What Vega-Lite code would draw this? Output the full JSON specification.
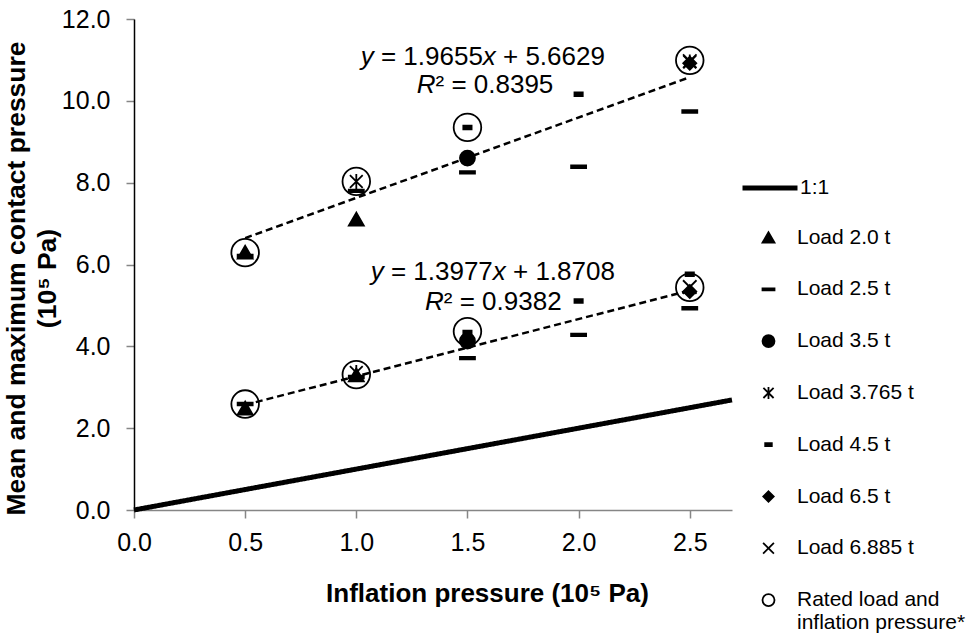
{
  "$schema": "https://vega.github.io/schema/vega-lite/v6.json",
  "width": 598,
  "height": 491,
  "autosize": {"type": "none"},
  "padding": {"left": 134, "top": 19, "right": 239, "bottom": 129},
  "background": "white",
  "config": {
    "view": {"stroke": null},
    "font": "Liberation Sans",
    "axis": {"grid": false, "labelFont": "Liberation Sans", "titleFont": "Liberation Sans", "labelColor": "black", "titleColor": "black"},
    "legend": {"labelFont": "Liberation Sans", "labelColor": "black"}
  },
  "datasets": {
    "oneToOne": [
      {"p": 0, "v": 0, "lab": "1:1"},
      {"p": 2.69, "v": 2.69, "lab": "1:1"}
    ],
    "trend": [
      {"g": "max", "p": 0.5, "v": 6.6457},
      {"g": "max", "p": 2.5, "v": 10.5767},
      {"g": "mean", "p": 0.5, "v": 2.5697},
      {"g": "mean", "p": 2.5, "v": 5.3651}
    ],
    "pts": [
      {"s": "Load 2.0 t", "p": 0.5, "v": 6.3},
      {"s": "Load 2.0 t", "p": 1.0, "v": 7.11},
      {"s": "Load 2.0 t", "p": 0.5, "v": 2.49},
      {"s": "Load 2.0 t", "p": 1.0, "v": 3.3},
      {"s": "Load 2.5 t", "p": 0.5, "v": 6.21},
      {"s": "Load 2.5 t", "p": 1.0, "v": 7.8},
      {"s": "Load 2.5 t", "p": 1.5, "v": 8.25},
      {"s": "Load 2.5 t", "p": 2.0, "v": 8.39},
      {"s": "Load 2.5 t", "p": 2.5, "v": 9.74},
      {"s": "Load 2.5 t", "p": 0.5, "v": 2.59},
      {"s": "Load 2.5 t", "p": 1.0, "v": 3.25},
      {"s": "Load 2.5 t", "p": 1.5, "v": 3.71},
      {"s": "Load 2.5 t", "p": 2.0, "v": 4.28},
      {"s": "Load 2.5 t", "p": 2.5, "v": 4.93},
      {"s": "Load 3.5 t", "p": 1.5, "v": 8.6},
      {"s": "Load 3.5 t", "p": 1.5, "v": 4.13},
      {"s": "Load 3.765 t", "p": 1.0, "v": 8.03},
      {"s": "Load 3.765 t", "p": 2.5, "v": 10.95},
      {"s": "Load 3.765 t", "p": 1.0, "v": 3.36},
      {"s": "Load 4.5 t", "p": 1.5, "v": 9.35},
      {"s": "Load 4.5 t", "p": 2.0, "v": 10.16},
      {"s": "Load 4.5 t", "p": 1.5, "v": 4.34},
      {"s": "Load 4.5 t", "p": 2.0, "v": 5.11},
      {"s": "Load 4.5 t", "p": 2.5, "v": 5.76},
      {"s": "Load 6.5 t", "p": 2.5, "v": 10.92},
      {"s": "Load 6.5 t", "p": 2.5, "v": 5.34},
      {"s": "Load 6.885 t", "p": 2.5, "v": 10.97},
      {"s": "Load 6.885 t", "p": 2.5, "v": 5.45}
    ],
    "rated": [
      {"s": "Rated load and inflation pressure*", "p": 0.5, "v": 6.29},
      {"s": "Rated load and inflation pressure*", "p": 1.0, "v": 8.03},
      {"s": "Rated load and inflation pressure*", "p": 1.5, "v": 9.35},
      {"s": "Rated load and inflation pressure*", "p": 2.5, "v": 10.99},
      {"s": "Rated load and inflation pressure*", "p": 0.5, "v": 2.59},
      {"s": "Rated load and inflation pressure*", "p": 1.0, "v": 3.31},
      {"s": "Rated load and inflation pressure*", "p": 1.5, "v": 4.36},
      {"s": "Rated load and inflation pressure*", "p": 2.5, "v": 5.44}
    ],
    "ann": [
      {"ax": 1.0198, "ay": 11.079, "t": "y", "it": true},
      {"ax": 1.1107, "ay": 11.079, "t": "= 1.9655", "it": false},
      {"ax": 1.5691, "ay": 11.079, "t": "x", "it": true},
      {"ax": 1.6599, "ay": 11.079, "t": "+ 5.6629", "it": false},
      {"ax": 1.2717, "ay": 10.387, "t": "R", "it": true},
      {"ax": 1.3563, "ay": 10.387, "t": "² = 0.8395", "it": false},
      {"ax": 1.0648, "ay": 5.824, "t": "y", "it": true},
      {"ax": 1.1556, "ay": 5.824, "t": "= 1.3977", "it": false},
      {"ax": 1.614, "ay": 5.824, "t": "x", "it": true},
      {"ax": 1.7049, "ay": 5.824, "t": "+ 1.8708", "it": false},
      {"ax": 1.309, "ay": 5.091, "t": "R", "it": true},
      {"ax": 1.3936, "ay": 5.091, "t": "² = 0.9382", "it": false}
    ]
  },
  "layer": [
    {
      "data": {"name": "oneToOne"},
      "mark": {"type": "line", "strokeWidth": 5, "strokeCap": "butt", "color": "black"},
      "encoding": {
        "x": {
          "field": "p", "type": "quantitative",
          "scale": {"domain": [0, 2.69], "nice": false, "zero": false},
          "axis": {
            "values": [0, 0.5, 1, 1.5, 2, 2.5], "format": ".1f",
            "labelFontSize": 25, "labelPadding": 12, "labelFlush": false,
            "domainColor": "#868686", "domainWidth": 1.5, "tickColor": "#868686", "tickSize": 8, "tickWidth": 1.5,
            "title": "Inflation pressure (10⁵ Pa)", "titleFontSize": 26, "titleFontWeight": "bold",
            "titleX": 353, "titleY": 83, "titleBaseline": "middle", "titleAnchor": "middle"
          }
        },
        "y": {
          "field": "v", "type": "quantitative",
          "scale": {"domain": [0, 12], "nice": false, "zero": false},
          "axis": {
            "values": [0, 2, 4, 6, 8, 10, 12], "format": ".1f",
            "labelFontSize": 25, "labelPadding": 16, "labelFlush": false,
            "domainColor": "black", "domainWidth": 1.5, "tickColor": "#868686", "tickSize": 8, "tickWidth": 1.5,
            "title": ["Mean and maximum contact pressure", "(10⁵ Pa)"], "titleFontSize": 26.5, "titleFontWeight": "bold",
            "titleLineHeight": 31, "titleX": -118, "titleY": 259, "titleBaseline": "middle", "titleAngle": -90, "titleAnchor": "middle", "titleAlign": "center"
          }
        },
        "strokeDash": {
          "field": "lab", "type": "nominal",
          "scale": {"domain": ["1:1"], "range": [[1, 0]]},
          "legend": {
            "title": null, "orient": "none", "legendX": 606, "legendY": 139,
            "symbolType": "stroke", "symbolSize": 3025, "symbolStrokeWidth": 5, "symbolStrokeColor": "black",
            "labelFontSize": 21, "labelOffset": 0
          }
        }
      }
    },
    {
      "data": {"name": "trend"},
      "mark": {"type": "line", "strokeWidth": 2.5, "strokeDash": [7, 4], "color": "black"},
      "encoding": {
        "x": {"field": "p", "type": "quantitative"},
        "y": {"field": "v", "type": "quantitative"},
        "detail": {"field": "g", "type": "nominal"}
      }
    },
    {
      "data": {"name": "pts"},
      "mark": {"type": "point", "strokeWidth": 1.8, "opacity": 1, "size": 225},
      "encoding": {
        "x": {"field": "p", "type": "quantitative"},
        "y": {"field": "v", "type": "quantitative"},
        "shape": {
          "field": "s", "type": "nominal",
          "scale": {
            "domain": ["Load 2.0 t", "Load 2.5 t", "Load 3.5 t", "Load 3.765 t", "Load 4.5 t", "Load 6.5 t", "Load 6.885 t", "Rated load and inflation pressure*"],
            "range": ["triangle-up", "M-1,-0.17L1,-0.17L1,0.17L-1,0.17Z", "circle", "M-0.85,-0.85L0.85,0.85M0.85,-0.85L-0.85,0.85M0,-1L0,1", "M-0.55,-0.25L0.55,-0.25L0.55,0.25L-0.55,0.25Z", "M0,-0.87L0.87,0L0,0.87L-0.87,0Z", "M-0.9,-0.9L0.9,0.9M0.9,-0.9L-0.9,0.9", "circle"]
          },
          "legend": {
            "title": null, "orient": "none", "legendX": 624, "legendY": 208,
            "symbolSize": 144, "symbolStrokeWidth": 1.8,
            "labelFontSize": 21, "labelOffset": 18, "rowPadding": 29.8, "labelLimit": 300,
            "labelExpr": "datum.label == 'Rated load and inflation pressure*' ? ['Rated load and', 'inflation pressure*'] : datum.label"
          }
        },
        "fill": {
          "field": "s", "type": "nominal",
          "scale": {
            "domain": ["Load 2.0 t", "Load 2.5 t", "Load 3.5 t", "Load 3.765 t", "Load 4.5 t", "Load 6.5 t", "Load 6.885 t", "Rated load and inflation pressure*"],
            "range": ["black", "black", "black", "transparent", "black", "black", "transparent", "transparent"]
          },
          "legend": {
            "title": null, "orient": "none", "legendX": 624, "legendY": 208,
            "symbolSize": 144, "symbolStrokeWidth": 1.8,
            "labelFontSize": 21, "labelOffset": 18, "rowPadding": 29.8, "labelLimit": 300,
            "labelExpr": "datum.label == 'Rated load and inflation pressure*' ? ['Rated load and', 'inflation pressure*'] : datum.label"
          }
        },
        "stroke": {
          "field": "s", "type": "nominal",
          "scale": {
            "domain": ["Load 2.0 t", "Load 2.5 t", "Load 3.5 t", "Load 3.765 t", "Load 4.5 t", "Load 6.5 t", "Load 6.885 t", "Rated load and inflation pressure*"],
            "range": ["black", "black", "black", "black", "black", "black", "black", "black"]
          },
          "legend": {
            "title": null, "orient": "none", "legendX": 624, "legendY": 208,
            "symbolSize": 144, "symbolStrokeWidth": 1.8,
            "labelFontSize": 21, "labelOffset": 18, "rowPadding": 29.8, "labelLimit": 300,
            "labelExpr": "datum.label == 'Rated load and inflation pressure*' ? ['Rated load and', 'inflation pressure*'] : datum.label"
          }
        }
      }
    },
    {
      "data": {"name": "rated"},
      "mark": {"type": "point", "strokeWidth": 1.8, "opacity": 1, "size": 760},
      "encoding": {
        "x": {"field": "p", "type": "quantitative"},
        "y": {"field": "v", "type": "quantitative"},
        "shape": {"field": "s", "type": "nominal"},
        "fill": {"field": "s", "type": "nominal"},
        "stroke": {"field": "s", "type": "nominal"}
      }
    },
    {
      "data": {"name": "ann"},
      "transform": [{"filter": "datum.it"}],
      "mark": {"type": "text", "align": "left", "baseline": "middle", "fontSize": 26, "fontStyle": "italic", "font": "Liberation Sans", "color": "black"},
      "encoding": {
        "x": {"field": "ax", "type": "quantitative"},
        "y": {"field": "ay", "type": "quantitative"},
        "text": {"field": "t", "type": "nominal"}
      }
    },
    {
      "data": {"name": "ann"},
      "transform": [{"filter": "!datum.it"}],
      "mark": {"type": "text", "align": "left", "baseline": "middle", "fontSize": 26, "font": "Liberation Sans", "color": "black"},
      "encoding": {
        "x": {"field": "ax", "type": "quantitative"},
        "y": {"field": "ay", "type": "quantitative"},
        "text": {"field": "t", "type": "nominal"}
      }
    }
  ]
}
